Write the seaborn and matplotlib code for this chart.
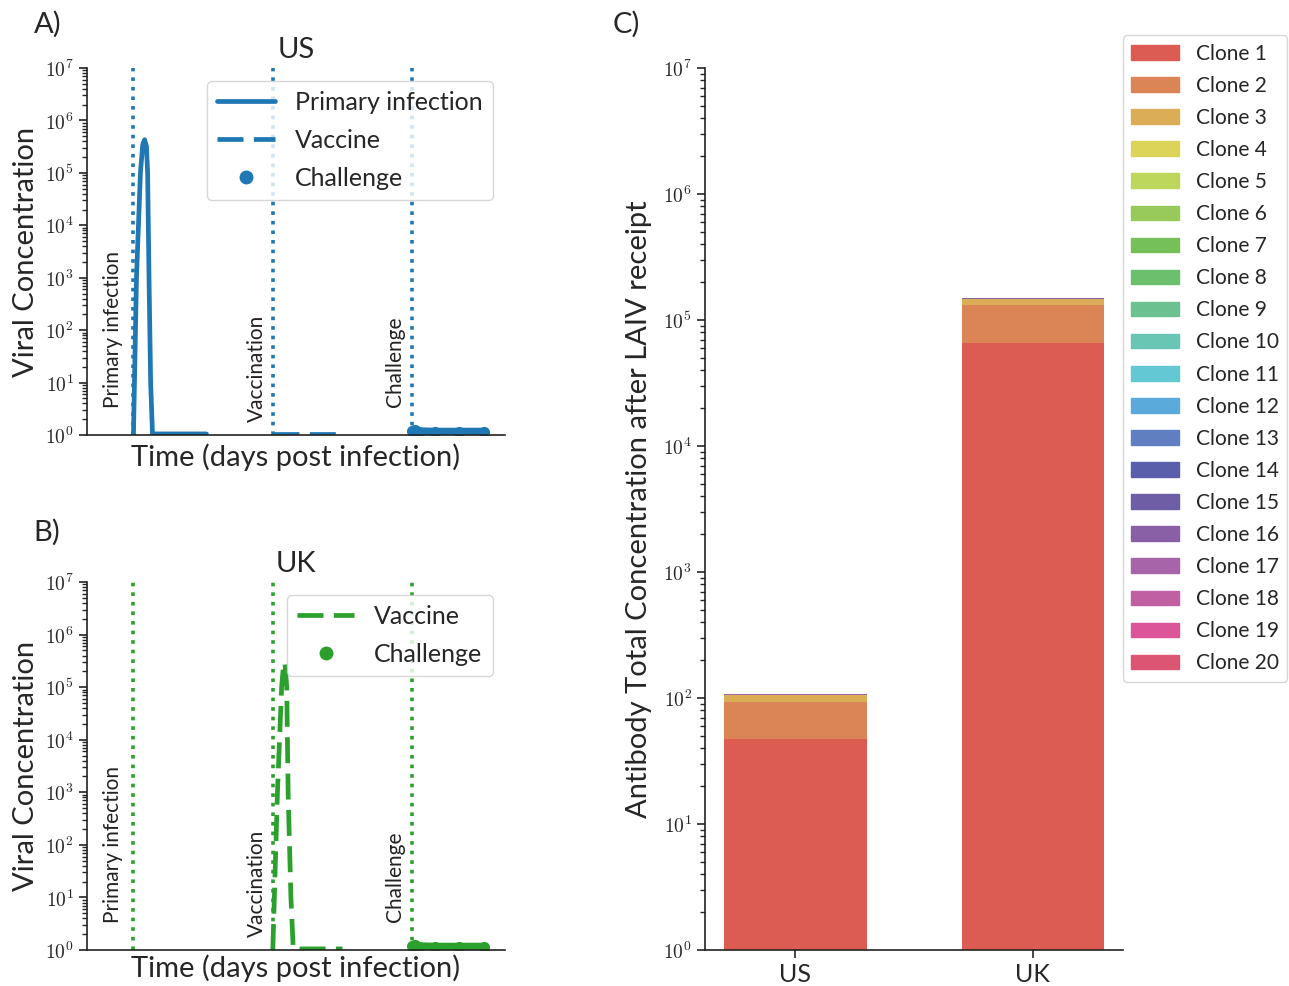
import numpy as np
import matplotlib
matplotlib.use('Agg')
import matplotlib.pyplot as plt
import seaborn as sns
from matplotlib.lines import Line2D
from matplotlib.patches import Patch
from matplotlib.ticker import FuncFormatter, LogLocator, NullFormatter

sns.set_style("ticks")
plt.rcParams['font.family'] = ['Lato', 'DejaVu Sans']
plt.rcParams['mathtext.fontset'] = 'cm'

# --- data -------------------------------------------------------------
event_days = [0, 30, 60]
event_names = ['Primary infection', 'Vaccination', 'Challenge']

# US: viral load
us_primary_t = [0, 0.65, 1.5, 2.0, 2.4, 2.8, 3.05, 3.35, 3.7, 4.1, 8.0, 15.7]
us_primary_v = [1.0, 1e3, 1e5, 3.5e5, 4.3e5, 3.2e5, 1e5, 1e3, 10, 1.05, 1.05, 1.05]
us_vaccine_t = [30, 37, 45]
us_vaccine_v = [1.05, 1.05, 1.05]
us_challenge_t = [60, 60.6, 61.5, 65, 70, 75.5]
us_challenge_v = [1.18, 1.25, 1.15, 1.13, 1.13, 1.13]

# UK: viral load
uk_vaccine_t = [30, 31.0, 31.9, 32.3, 32.6, 33.0, 33.3, 33.9, 34.4, 40, 45]
uk_vaccine_v = [1.0, 1e3, 1e5, 2.6e5, 3e5, 1e5, 1e3, 10, 1.05, 1.05, 1.05]
uk_challenge_t = [60, 60.6, 61.5, 65, 70, 75.5]
uk_challenge_v = [1.18, 1.25, 1.15, 1.13, 1.13, 1.13]

# panel C: antibody concentration per clone
countries = ['US', 'UK']
clone_names = ['Clone %d' % i for i in range(1, 21)]
us_clone_conc = [47.3, 45.7, 12.0, 0.05, 0.05, 0.05, 0.05, 0.05, 0.05, 0.05,
                 0.05, 0.05, 0.05, 0.05, 0.2, 0.6, 0.3, 0.05, 0.05, 0.05]
uk_clone_conc = [65700, 65800, 15300, 40, 40, 40, 40, 40, 40, 40,
                 40, 40, 40, 40, 400, 1200, 600, 40, 40, 40]

blue = '#1f77b4'
green = '#2ca02c'
clone_colors = ['#dc5c54', '#db8455', '#dcad57', '#dcd458', '#bcd75b',
                '#97ca5b', '#76c05a', '#6bbf6d', '#6bc190', '#69c6b4',
                '#64c8d3', '#5aaadb', '#5f7fc1', '#5a5fab', '#6e5ea5',
                '#895fa5', '#a864a8', '#c060a2', '#dc559b', '#dc5673']

fig = plt.figure(figsize=(12.89, 9.86), dpi=100)
ax_a = fig.add_axes([0.0675, 0.5588, 0.3243, 0.3722])
ax_b = fig.add_axes([0.0675, 0.0365, 0.3243, 0.3732])
ax_c = fig.add_axes([0.547, 0.0365, 0.3243, 0.8945])


def log_fmt(v, pos):
    return r'$10^{%d}$' % int(round(np.log10(v)))


def style_viral(ax, color, title, xpad):
    ax.set_yscale('log')
    ax.set_ylim(1, 1e7)
    ax.set_xlim(-10, 80)
    ax.set_xticks([])
    ax.yaxis.set_major_locator(LogLocator(base=10, numticks=10))
    ax.yaxis.set_minor_locator(LogLocator(base=10, subs=np.arange(2, 10), numticks=100))
    ax.yaxis.set_major_formatter(FuncFormatter(log_fmt))
    ax.yaxis.set_minor_formatter(NullFormatter())
    ax.tick_params(axis='y', labelsize=14, length=6, width=1.2, color='#222222')
    ax.tick_params(axis='y', which='minor', length=3.5, width=1)
    for d in event_days:
        ax.axvline(d, color=color, ls=':', lw=2.6)
    text_dx = [-2.3, -1.3, -1.5]
    text_y = [3.3, 1.77, 3.4]
    for d, name, dx, yy in zip(event_days, event_names, text_dx, text_y):
        ax.text(d + dx, yy, name, rotation=90, ha='right', va='bottom',
                fontsize=15, color='#222222')
    ax.set_title(title, fontsize=21, pad=7.5)
    ax.set_ylabel('Viral Concentration', fontsize=21)
    ax.set_xlabel('Time (days post infection)', fontsize=21, labelpad=xpad)
    sns.despine(ax=ax)


# panel A
sns.lineplot(x=us_primary_t, y=us_primary_v, ax=ax_a, color=blue, lw=3.4)
sns.lineplot(x=us_vaccine_t, y=us_vaccine_v, ax=ax_a, color=blue, lw=3.4,
             linestyle=(0, (5.5, 2.2)))
sns.lineplot(x=us_challenge_t, y=us_challenge_v, ax=ax_a, color=blue, lw=6.5,
             marker='o', markersize=8, markeredgewidth=0, solid_capstyle='round')
style_viral(ax_a, blue, 'US', 6)
handles_a = [
    Line2D([], [], color=blue, lw=3.4),
    Line2D([], [], color=blue, lw=3.4, linestyle=(0, (5.5, 2.2))),
    Line2D([], [], color=blue, lw=0, marker='o', markersize=9),
]
ax_a.legend(handles_a, ['Primary infection', 'Vaccine', 'Challenge'],
            loc='upper right', fontsize=18, frameon=True, labelspacing=0.6,
            handlelength=2.3)

# panel B
sns.lineplot(x=uk_vaccine_t, y=uk_vaccine_v, ax=ax_b, color=green, lw=3.4,
             linestyle=(0, (5.5, 2.2)))
sns.lineplot(x=uk_challenge_t, y=uk_challenge_v, ax=ax_b, color=green, lw=6.5,
             marker='o', markersize=8, markeredgewidth=0, solid_capstyle='round')
style_viral(ax_b, green, 'UK', 3)
handles_b = [
    Line2D([], [], color=green, lw=3.4, linestyle=(0, (5.5, 2.2))),
    Line2D([], [], color=green, lw=0, marker='o', markersize=9),
]
ax_b.legend(handles_b, ['Vaccine', 'Challenge'], loc='upper right',
            fontsize=18, frameon=True, labelspacing=0.6, handlelength=2.3)

# panel C: stacked bars, drawn from the tallest cumulative layer down
us_cum = np.cumsum(us_clone_conc)
uk_cum = np.cumsum(uk_clone_conc)
for i in reversed(range(20)):
    sns.barplot(x=countries, y=[us_cum[i], uk_cum[i]], ax=ax_c,
                color=clone_colors[i], saturation=1, width=0.6, linewidth=0)
ax_c.set_yscale('log')
ax_c.set_ylim(1, 1e7)
ax_c.set_xlim(-0.38, 1.38)
ax_c.yaxis.set_major_locator(LogLocator(base=10, numticks=10))
ax_c.yaxis.set_minor_locator(LogLocator(base=10, subs=np.arange(2, 10), numticks=100))
ax_c.yaxis.set_major_formatter(FuncFormatter(log_fmt))
ax_c.yaxis.set_minor_formatter(NullFormatter())
ax_c.tick_params(axis='y', labelsize=14, length=6, width=1.2)
ax_c.tick_params(axis='y', which='minor', length=3.5, width=1)
ax_c.tick_params(axis='x', labelsize=18, length=6, width=1.2)
ax_c.set_ylabel('Antibody Total Concentration after LAIV receipt', fontsize=21,
                labelpad=8)
ax_c.set_xlabel(None)
sns.despine(ax=ax_c)
handles_c = [Patch(color=c) for c in clone_colors]
ax_c.legend(handles_c, clone_names, loc='upper left', bbox_to_anchor=(1.0, 1.037),
            borderaxespad=0, fontsize=15, frameon=True, labelspacing=0.58,
            handlelength=2.3, handletextpad=0.8)

for ax in (ax_a, ax_b, ax_c):
    for sp in ax.spines.values():
        sp.set_linewidth(1.2)
        sp.set_color('#222222')

fig.text(0.026, 0.975, 'A)', fontsize=21, va='center')
fig.text(0.026, 0.46, 'B)', fontsize=21, va='center')
fig.text(0.475, 0.975, 'C)', fontsize=21, va='center')

fig.savefig('out.png', dpi=100)
